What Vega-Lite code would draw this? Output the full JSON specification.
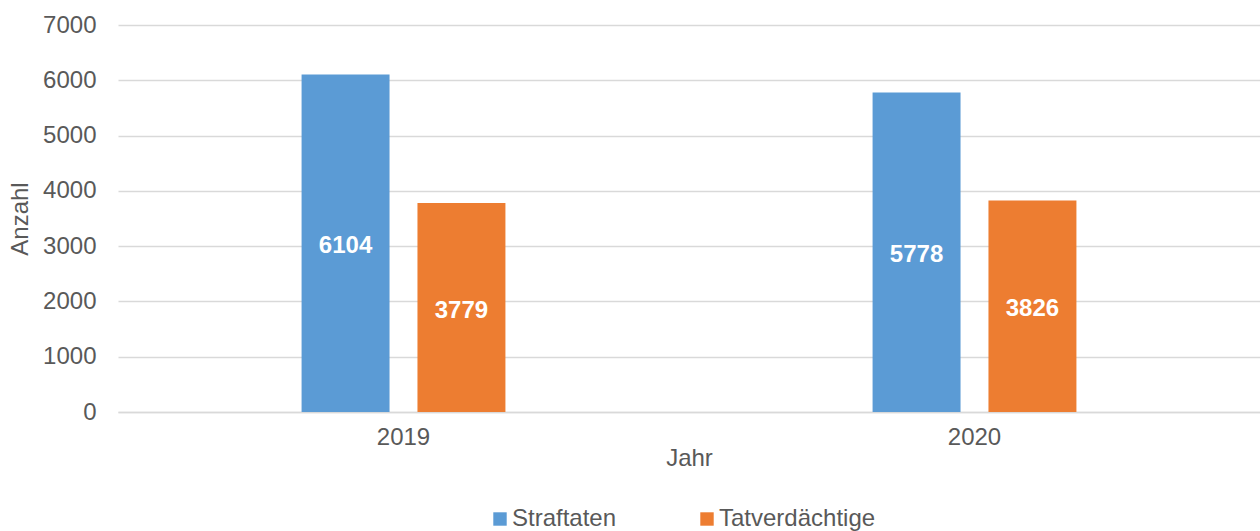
{
  "$schema": "https://vega.github.io/schema/vega-lite/v6.json",
  "autosize": {"type": "none"},
  "padding": {"left": 118, "top": 25, "right": 0, "bottom": 119},
  "width": 1142,
  "height": 387,
  "background": "white",
  "config": {
    "font": "Liberation Sans",
    "view": {"stroke": null},
    "axis": {"labelColor": "#595959", "titleColor": "#595959", "labelFont": "Liberation Sans", "titleFont": "Liberation Sans", "titleFontWeight": "normal"},
    "legend": {"labelColor": "#595959", "labelFont": "Liberation Sans"}
  },
  "data": {
    "values": [
      {"Jahr": "2019", "Serie": "Straftaten", "Anzahl": 6104},
      {"Jahr": "2019", "Serie": "Tatverdächtige", "Anzahl": 3779},
      {"Jahr": "2020", "Serie": "Straftaten", "Anzahl": 5778},
      {"Jahr": "2020", "Serie": "Tatverdächtige", "Anzahl": 3826}
    ]
  },
  "encoding": {
    "x": {
      "field": "Jahr", "type": "nominal",
      "scale": {"paddingInner": 0.643, "paddingOuter": 0.3215},
      "axis": {"title": "Jahr", "labelAngle": 0, "labelFontSize": 24, "titleFontSize": 24, "labelPadding": 13, "titlePadding": -3, "ticks": false, "domainColor": "#d9d9d9", "domainWidth": 1.5, "grid": false}
    },
    "xOffset": {"field": "Serie", "type": "nominal", "scale": {"paddingInner": 0.241, "paddingOuter": 0}}
  },
  "layer": [
    {
      "mark": {"type": "bar"},
      "encoding": {
        "y": {
          "field": "Anzahl", "type": "quantitative",
          "scale": {"domain": [0, 7000], "nice": false},
          "axis": {"title": "Anzahl", "values": [0,1000,2000,3000,4000,5000,6000,7000], "format": "d", "labelOverlap": false, "labelFlush": false, "labelBound": false, "labelFontSize": 24, "titleFontSize": 24, "labelPadding": 22, "titlePadding": 10, "ticks": false, "domain": false, "gridColor": "#d9d9d9", "gridWidth": 1.5}
        },
        "color": {
          "field": "Serie", "type": "nominal",
          "scale": {"domain": ["Straftaten", "Tatverdächtige"], "range": ["#5B9BD5", "#ED7D31"]},
          "legend": {"title": null, "orient": "none", "legendX": 370, "legendY": 482, "direction": "horizontal", "symbolType": "square", "symbolSize": 180, "symbolStrokeWidth": 0, "symbolOpacity": 1, "labelFontSize": 24, "labelOffset": 0, "columnPadding": 78, "padding": 0}
        }
      }
    },
    {
      "mark": {"type": "text", "color": "white", "fontWeight": "bold", "fontSize": 24, "baseline": "middle", "align": "center", "dy": 3},
      "encoding": {
        "y": {"field": "Anzahl", "type": "quantitative", "scale": {"domain": [0, 14000], "nice": false}, "axis": null},
        "text": {"field": "Anzahl", "type": "quantitative", "format": "d"}
      }
    }
  ],
  "resolve": {"scale": {"y": "independent"}}
}
